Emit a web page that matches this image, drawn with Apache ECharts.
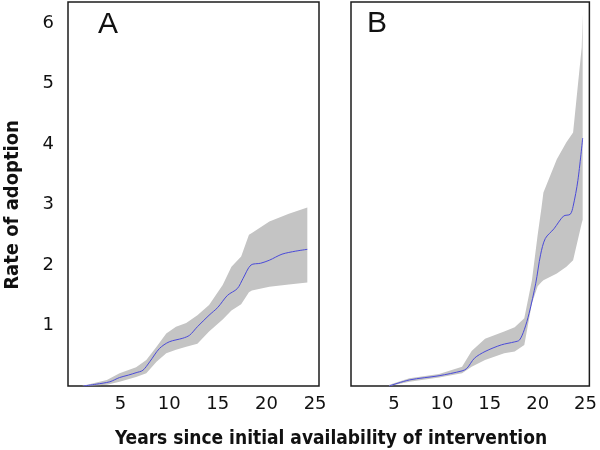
<!DOCTYPE html>
<html>
<head>
<meta charset="utf-8">
<script src="https://cdn.jsdelivr.net/npm/echarts@6/dist/echarts.min.js"></script>
<style>html,body{margin:0;padding:0;background:#fff}#c{width:600px;height:450px}</style>
</head>
<body>
<div id="c"></div>
<script>
// Panel A: confidence band (x, lower, upper) and mean line
var bandXA   = [1, 3.6, 4.9, 6.6, 7.65, 8.7, 9.7, 10.7, 11.75, 12.9, 14.1, 15.5, 16.4, 17.4, 18.2, 18.5, 20.3, 22.3, 24.2];
var bandLoA  = [0, 0.02, 0.07, 0.15, 0.21, 0.40, 0.54, 0.60, 0.65, 0.70, 0.90, 1.10, 1.25, 1.35, 1.55, 1.58, 1.64, 1.68, 1.71];
var bandHiA  = [0, 0.10, 0.21, 0.31, 0.43, 0.65, 0.87, 0.98, 1.04, 1.17, 1.34, 1.67, 1.97, 2.14, 2.50, 2.53, 2.72, 2.85, 2.95];
var lineXA   = [1.2, 2.5, 3.9, 4.9, 5.8, 6.6, 7.3, 8.0, 9.0, 10.0, 11.4, 12.1, 12.9, 14.1, 15.0, 16.0, 17.0, 17.6, 18.4, 19.4, 20.3, 21.6, 23.0, 24.2];
var lineYA   = [0, 0.03, 0.07, 0.14, 0.18, 0.22, 0.26, 0.40, 0.62, 0.73, 0.79, 0.84, 0.98, 1.17, 1.30, 1.50, 1.61, 1.78, 2.00, 2.03, 2.08, 2.18, 2.23, 2.26];

// Panel B
var bandXB   = [4.5, 6.6, 9.7, 12.1, 13.1, 14.5, 16.5, 17.6, 18.6, 19.4, 20.0, 20.4, 20.6, 22.0, 23.0, 23.7, 24.6, 24.7];
var bandLoB  = [0, 0.07, 0.14, 0.21, 0.32, 0.43, 0.54, 0.57, 0.68, 1.37, 1.65, 1.72, 1.75, 1.86, 1.97, 2.08, 2.69, 2.75];
var bandHiB  = [0.02, 0.13, 0.20, 0.32, 0.58, 0.78, 0.90, 0.97, 1.12, 1.75, 2.50, 2.95, 3.20, 3.75, 4.03, 4.19, 5.60, 6.15];
var lineXB   = [4.5, 6.6, 9.7, 12.1, 12.6, 13.4, 14.5, 16.2, 17.6, 18.1, 18.6, 19.1, 19.8, 20.3, 20.8, 21.7, 22.7, 23.4, 23.7, 24.2, 24.7];
var lineYB   = [0, 0.10, 0.17, 0.25, 0.29, 0.46, 0.57, 0.68, 0.73, 0.76, 0.93, 1.20, 1.70, 2.17, 2.44, 2.60, 2.81, 2.84, 2.97, 3.40, 4.10];

var xTicks = [5, 10, 15, 20, 25];
var yTicks = [1, 2, 3, 4, 5, 6];
var panelLabels = ['A', 'B'];
var xTitle = 'Years since initial availability of intervention';
var yTitle = 'Rate of adoption';

function zip2(a, b) { return a.map(function (v, i) { return [v, b[i]]; }); }
function zip3(a, b, c) { return a.map(function (v, i) { return [v, b[i], c[i]]; }); }

function bandSeries(idx, xs, lo, hi) {
  return {
    type: 'custom', xAxisIndex: idx, yAxisIndex: idx, silent: true, z: 1,
    data: zip3(xs, lo, hi),
    renderItem: function (params, api) {
      if (params.dataIndex !== 0) return;
      var pts = [];
      for (var i = 0; i < xs.length; i++) pts.push(api.coord([xs[i], hi[i]]));
      for (var j = xs.length - 1; j >= 0; j--) pts.push(api.coord([xs[j], lo[j]]));
      return { type: 'polygon', shape: { points: pts }, style: { fill: '#c4c4c4', stroke: null } };
    }
  };
}
function lineSeries(idx, xs, ys) {
  return {
    type: 'line', xAxisIndex: idx, yAxisIndex: idx, z: 3, silent: true,
    data: zip2(xs, ys), showSymbol: false, smooth: 0.3,
    lineStyle: { color: '#4a4ad8', width: 1 }
  };
}

var tickFont = { fontFamily: 'DejaVu Sans', fontSize: 18, color: '#111' };
var titleFont = '"DejaVu Sans Condensed", "DejaVu Sans", sans-serif';

var option = {
  animation: false,
  grid: [
    { left: 68, top: 2, width: 251, height: 384, show: true, borderColor: '#1c1c1c', borderWidth: 1.5, backgroundColor: 'transparent' },
    { left: 351, top: 2, width: 242, height: 384, show: true, borderColor: '#1c1c1c', borderWidth: 1.5, backgroundColor: 'transparent' }
  ],
  xAxis: [
    { type: 'value', gridIndex: 0, min: -0.4, max: 25.4, axisLine: { show: false }, axisTick: { show: false }, splitLine: { show: false },
      axisLabel: Object.assign({ customValues: xTicks, margin: 9 }, tickFont) },
    { type: 'value', gridIndex: 1, min: 0.5, max: 25.4, axisLine: { show: false }, axisTick: { show: false }, splitLine: { show: false },
      axisLabel: Object.assign({ customValues: xTicks, margin: 9 }, tickFont) }
  ],
  yAxis: [
    { type: 'value', gridIndex: 0, min: 0, max: 6.35, axisLine: { show: false }, axisTick: { show: false }, splitLine: { show: false },
      axisLabel: Object.assign({ customValues: yTicks, margin: 14 }, tickFont) },
    { type: 'value', gridIndex: 1, min: 0, max: 6.35, axisLine: { show: false }, axisTick: { show: false }, splitLine: { show: false },
      axisLabel: { show: false } }
  ],
  series: [
    bandSeries(0, bandXA, bandLoA, bandHiA),
    lineSeries(0, lineXA, lineYA),
    bandSeries(1, bandXB, bandLoB, bandHiB),
    lineSeries(1, lineXB, lineYB)
  ],
  graphic: [
    { type: 'text', x: 108, y: 25, style: { text: panelLabels[0], font: '30px "Liberation Sans", Arial, sans-serif', fill: '#111', align: 'center', verticalAlign: 'middle' } },
    { type: 'text', x: 377, y: 24, style: { text: panelLabels[1], font: '30px "Liberation Sans", Arial, sans-serif', fill: '#111', align: 'center', verticalAlign: 'middle' } },
    { type: 'text', x: 331, y: 439, style: { text: xTitle, font: 'bold 19px ' + titleFont, fill: '#111', align: 'center', verticalAlign: 'middle' } },
    { type: 'text', x: 13, y: 205, rotation: Math.PI / 2, style: { text: yTitle, font: 'bold 20px ' + titleFont, fill: '#111', align: 'center', verticalAlign: 'middle' } }
  ]
};
var chart = echarts.init(document.getElementById('c'), null, { renderer: 'canvas' });
chart.setOption(option);
</script>
</body>
</html>
